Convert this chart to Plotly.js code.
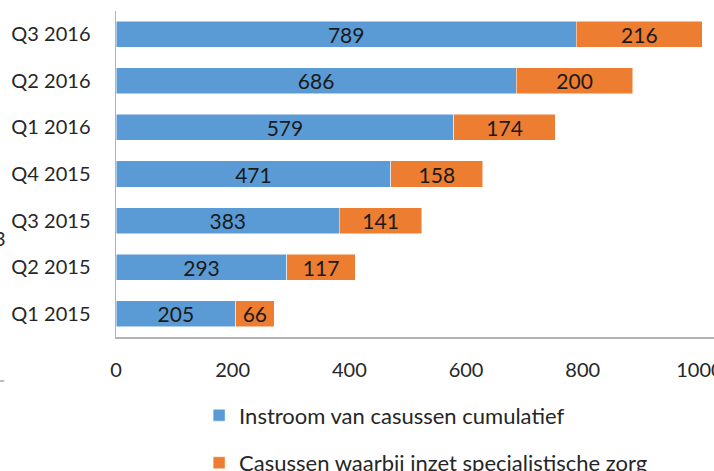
<!DOCTYPE html>
<html>
<head>
<meta charset="utf-8">
<script src="https://cdn.plot.ly/plotly-3.0.1.min.js"></script>
<style>
  html, body { margin: 0; padding: 0; background: #ffffff; overflow: hidden; }
  #chart { width: 714px; height: 471px; }
</style>
</head>
<body>
<div id="chart"></div>
<script>
// Data (bottom to top)
const categories = ["Q1 2015", "Q2 2015", "Q3 2015", "Q4 2015", "Q1 2016", "Q2 2016", "Q3 2016"];
const instroom = [205, 293, 383, 471, 579, 686, 789];
const specialistisch = [66, 117, 141, 158, 174, 200, 216];
const seriesNames = ["Instroom van casussen cumulatief", "Casussen waarbij inzet specialistische zorg"];
const xTicks = [0, 200, 400, 600, 800, 1000];

const FONT = "Lato, 'Open Sans', sans-serif";
const BLUE = "#5B9BD5";
const ORANGE = "#ED7D31";

const common = {
  type: "bar",
  orientation: "h",
  y: categories,
  width: 0.56,
  textposition: "inside",
  insidetextanchor: "middle",
  textangle: 0,
  constraintext: "none",
  textfont: { family: FONT, size: 21, color: "#1a1a1a" },
  hoverinfo: "skip"
};

const traces = [
  Object.assign({}, common, {
    x: instroom, text: instroom.map(String), name: seriesNames[0],
    legendgroup: "a",
    marker: { color: BLUE, line: { color: "#ffffff", width: 0.5 } }
  }),
  Object.assign({}, common, {
    x: specialistisch, text: specialistisch.map(String), name: seriesNames[1],
    legendgroup: "b",
    marker: { color: ORANGE, line: { color: "#ffffff", width: 0.5 } }
  })
];

const layout = {
  width: 714,
  height: 471,
  margin: { l: 116, r: 0, t: 11, b: 134, pad: 0, autoexpand: false },
  barmode: "stack",
  paper_bgcolor: "#ffffff",
  plot_bgcolor: "#ffffff",
  font: { family: FONT, size: 20, color: "#262626" },
  xaxis: {
    range: [0, 1025],
    tickvals: xTicks,
    ticktext: xTicks.map(String),
    ticklabeloverflow: "allow",
    showgrid: false,
    zeroline: false,
    showline: true,
    linecolor: "#b3b3b3",
    linewidth: 1.5,
    ticks: "",
    ticklabelstandoff: 14,
    tickfont: { family: FONT, size: 20, color: "#262626" },
    fixedrange: true
  },
  yaxis: {
    type: "category",
    showgrid: false,
    zeroline: false,
    showline: true,
    linecolor: "#b3b3b3",
    linewidth: 1.5,
    ticks: "",
    ticklabelstandoff: 20,
    tickfont: { family: FONT, size: 20, color: "#262626" },
    fixedrange: true
  },
  showlegend: true,
  legend: {
    orientation: "v",
    x: 0.139,
    xanchor: "left",
    y: -0.176,
    yanchor: "top",
    traceorder: "grouped",
    tracegroupgap: 16,
    font: { family: FONT, size: 22, color: "#262626" },
    bgcolor: "rgba(0,0,0,0)"
  },
  annotations: [
    { xref: "paper", yref: "paper", x: -0.194, y: 0.304, text: "3", showarrow: false,
      xanchor: "center", yanchor: "middle", font: { family: FONT, size: 20, color: "#262626" } }
  ],
  shapes: [
    { type: "line", xref: "paper", yref: "paper", x0: -0.2, x1: -0.187, y0: -0.135, y1: -0.135,
      line: { color: "#a6a6a6", width: 1.5 } }
  ]
};

Plotly.newPlot("chart", traces, layout, { displayModeBar: false, staticPlot: true });
</script>
</body>
</html>
